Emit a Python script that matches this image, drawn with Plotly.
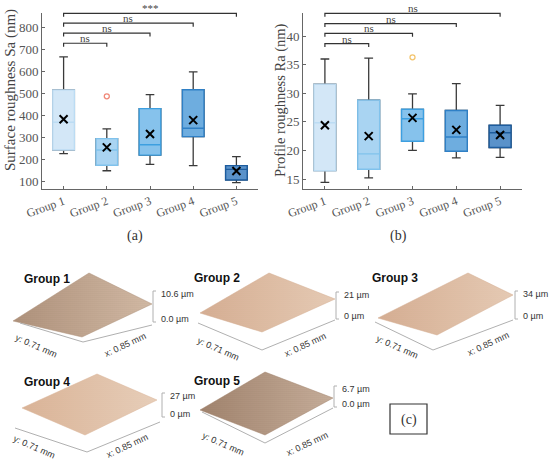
import plotly.graph_objects as go

W, H = 550, 461

# ---------------- data ----------------
groups = ["Group 1", "Group 2", "Group 3", "Group 4", "Group 5"]
positions = [1, 2, 3, 4, 5]

sa_lowerfence = [228, 150, 179, 173, 96]
sa_q1 = [244, 175, 221, 305, 108]
sa_median = [370, 244, 268, 343, 156]
sa_q3 = [517, 296, 432, 518, 173]
sa_upperfence = [667, 340, 496, 599, 214]
sa_mean = [384, 256, 317, 380, 149]
sa_outlier_pos = [2]
sa_outlier_val = [488]

ra_lowerfence = [14.4, 15.2, 20.0, 18.7, 18.8]
ra_q1 = [16.45, 16.7, 21.6, 19.85, 20.5]
ra_median = [24.85, 19.4, 25.55, 22.35, 23.1]
ra_q3 = [31.6, 28.8, 27.2, 27.0, 24.4]
ra_upperfence = [36.0, 36.15, 29.9, 31.7, 27.9]
ra_mean = [24.4, 22.5, 25.7, 23.6, 22.7]
ra_outlier_pos = [3]
ra_outlier_val = [36.3]

comparisons = [(1, 2), (1, 3), (1, 4), (1, 5)]
sa_sig = ["ns", "ns", "ns", "***"]
sa_bracket = [729, 775, 820, 865]
ra_sig = ["ns", "ns", "ns", "ns"]
ra_bracket = [38.7, 40.5, 42.2, 44.0]

sa_ticks = [100, 200, 300, 400, 500, 600, 700, 800]
ra_ticks = [15, 20, 25, 30, 35, 40]

surf_titles = ["Group 1", "Group 2", "Group 3", "Group 4", "Group 5"]
surf_zmax = ["10.6 µm", "21 µm", "34 µm", "27 µm", "6.7 µm"]
surf_zmin = ["0.0 µm", "0 µm", "0 µm", "0 µm", "0.0 µm"]
surf_ylab = "y: 0.71 mm"
surf_xlab = "x: 0.85 mm"

# ---------------- styling ----------------
box_fill = ["#d3e7f7", "#a9d4f2", "#86c2ec", "#6eaddf", "#5a92ca"]
box_edge = ["#bcdcf3", "#80c2ec", "#3d9fe0", "#2f80c6", "#1d5c9e"]
whisker = "#3a3a3a"
serif = "Liberation Serif"
sans = "Liberation Sans"

# subplot pixel geometry
A_X = (42, 258)
B_X = (303, 522)
P_Y = (13.3, 189)
sa_range = [67, 865]
ra_range = [13.25, 44.0]
x_range = [0.5, 5.5]


def px(x):
    return x / W


def py(y):
    return 1 - y / H


def data_to_px(v, rng, pix0, pix1):
    return pix0 + (v - rng[0]) / (rng[1] - rng[0]) * (pix1 - pix0)


def note(x, y, text, size, family, color="#333333", angle=0, xa="center", ya="middle", yshift=0):
    return dict(x=px(x), y=py(y), xref="paper", yref="paper", text=text, showarrow=False,
                textangle=angle, xanchor=xa, yanchor=ya, yshift=yshift,
                font=dict(family=family, size=size, color=color))


fig = go.Figure()


def add_boxes(xa, ya, lf, q1, med, q3, uf, mean, opos, oval, ocolor):
    for i in range(5):
        fig.add_trace(go.Box(
            x=[positions[i]], q1=[q1[i]], median=[med[i]], q3=[q3[i]],
            lowerfence=[lf[i]], upperfence=[uf[i]],
            width=0.5, whiskerwidth=0.4, fillcolor=box_fill[i],
            line=dict(color=whisker, width=1.3), boxpoints=False,
            xaxis=xa, yaxis=ya, hoverinfo="skip"))
        fig.add_trace(go.Box(
            x=[positions[i]], q1=[q1[i]], median=[med[i]], q3=[q3[i]],
            lowerfence=[q1[i]], upperfence=[q3[i]],
            width=0.5, whiskerwidth=0, fillcolor=box_fill[i],
            line=dict(color=box_edge[i], width=1.4), boxpoints=False,
            xaxis=xa, yaxis=ya, hoverinfo="skip"))
    fig.add_trace(go.Scatter(
        x=positions, y=mean, mode="markers", xaxis=xa, yaxis=ya, hoverinfo="skip",
        marker=dict(symbol="x-thin", size=8, line=dict(color="black", width=2))))
    fig.add_trace(go.Scatter(
        x=opos, y=oval, mode="markers", xaxis=xa, yaxis=ya, hoverinfo="skip",
        marker=dict(symbol="circle-open", size=5, color=ocolor, line=dict(width=1.3))))


add_boxes("x", "y", sa_lowerfence, sa_q1, sa_median, sa_q3, sa_upperfence,
          sa_mean, sa_outlier_pos, sa_outlier_val, "#f08878")
add_boxes("x2", "y2", ra_lowerfence, ra_q1, ra_median, ra_q3, ra_upperfence,
          ra_mean, ra_outlier_pos, ra_outlier_val, "#f3c46c")

shapes = []
annotations = []


def add_brackets(xpix, rng, heights, sigs):
    for (a, b), h, s in zip(comparisons, heights, sigs):
        xa = data_to_px(a, x_range, xpix[0], xpix[1])
        xb = data_to_px(b, x_range, xpix[0], xpix[1])
        yh = data_to_px(h, rng, P_Y[1], P_Y[0])
        path = (f"M {px(xa)},{py(yh + 3.5)} L {px(xa)},{py(yh)} "
                f"L {px(xb)},{py(yh)} L {px(xb)},{py(yh + 3.5)}")
        shapes.append(dict(type="path", path=path, xref="paper", yref="paper",
                           line=dict(color="#333333", width=1.2)))
        annotations.append(note((xa + xb) / 2, yh, s, 11, serif, "#444444",
                                ya="bottom", yshift=-3))


add_brackets(A_X, sa_range, sa_bracket, sa_sig)
add_brackets(B_X, ra_range, ra_bracket, ra_sig)

# axis titles and panel letters
annotations.append(note(11, 90, "Surface roughness Sa (nm)", 15, serif, "#444444", angle=-90))
annotations.append(note(280, 100, "Profile roughness Ra (nm)", 14.5, serif, "#444444", angle=-90))
annotations.append(note(135, 236, "(a)", 14, serif))
annotations.append(note(398, 236, "(b)", 14, serif))

# ---------------- (c) surface topography panels ----------------
panels = [
    dict(title=(22, 279), surf=[(89, 273), (152, 304), (82, 337), (13, 321)],
         base=[(20, 323), (83, 342), (152, 325)], zx=153, zt=291, zb=322,
         ylab=(36, 346), xlab=(125, 345), dark="#b39680", light="#d8c0ab",
         speck="#5a4030", speck_op=0.3),
    dict(title=(192, 278), surf=[(269, 273), (335, 299), (262, 332), (200, 313)],
         base=[(198, 323), (262, 350), (335, 320)], zx=336, zt=292, zb=319,
         ylab=(218, 349), xlab=(305, 345), dark="#d5ae93", light="#e6cbb5",
         speck="#8a6a55", speck_op=0.08),
    dict(title=(370, 278), surf=[(468, 273), (513, 295), (437, 335), (378, 318)],
         base=[(375, 322), (433, 350), (513, 320)], zx=515, zt=291, zb=319,
         ylab=(397, 347), xlab=(488, 344), dark="#d5ae93", light="#e6cbb5",
         speck="#8a6a55", speck_op=0.08),
    dict(title=(22, 382), surf=[(97, 374), (157, 400), (85, 435), (22, 408)],
         base=[(15, 428), (87, 452), (160, 422)], zx=162, zt=393, zb=417,
         ylab=(34, 447), xlab=(127, 446), dark="#dab498", light="#e8cfba",
         speck="#8a6a55", speck_op=0.08),
    dict(title=(192, 381), surf=[(265, 372), (333, 398), (265, 435), (200, 410)],
         base=[(202, 412), (265, 443), (333, 408)], zx=334, zt=386, zb=407,
         ylab=(223, 444), xlab=(307, 444), dark="#a68872", light="#cdb4a0",
         speck="#4f3828", speck_op=0.32),
]

for i, p in enumerate(panels):
    pts = p["surf"] + [p["surf"][0]]
    xs = [q[0] for q in pts]
    ys = [q[1] for q in pts]
    fig.add_trace(go.Scatter(
        x=xs, y=ys, mode="lines", fill="toself",
        line=dict(color=p["dark"], width=0.5), hoverinfo="skip",
        fillgradient=dict(type="horizontal", colorscale=[[0, p["dark"]], [1, p["light"]]]),
        xaxis="x3", yaxis="y3"))
    fig.add_trace(go.Scatter(
        x=xs, y=ys, mode="none", fill="toself", fillcolor="rgba(0,0,0,0)", hoverinfo="skip",
        fillpattern=dict(shape=".", fgcolor=p["speck"], fgopacity=p["speck_op"],
                         size=2, solidity=0.3, fillmode="overlay"),
        xaxis="x3", yaxis="y3"))
    bpath = "M " + " L ".join(f"{px(x)},{py(y)}" for x, y in p["base"])
    shapes.append(dict(type="path", path=bpath, xref="paper", yref="paper",
                       line=dict(color="#b0b0b0", width=1)))
    zx = p["zx"]
    zpath = (f"M {px(zx + 3)},{py(p['zt'])} L {px(zx)},{py(p['zt'])} L {px(zx)},{py(p['zb'])} "
             f"L {px(zx + 3)},{py(p['zb'])}")
    shapes.append(dict(type="path", path=zpath, xref="paper", yref="paper",
                       line=dict(color="#b0b0b0", width=1)))
    annotations.append(note(p["title"][0], p["title"][1], f"<b>{surf_titles[i]}</b>", 12, sans,
                            "#111111", xa="left"))
    annotations.append(note(zx + 6, p["zt"] + 3, surf_zmax[i], 9, sans, xa="left"))
    annotations.append(note(zx + 6, p["zb"] - 3, surf_zmin[i], 9, sans, xa="left"))
    annotations.append(note(p["ylab"][0], p["ylab"][1], surf_ylab, 9, sans, angle=24))
    annotations.append(note(p["xlab"][0], p["xlab"][1], surf_xlab, 9, sans, angle=-25))

# (c) label box
shapes.append(dict(type="rect", x0=px(390), x1=px(427), y0=py(404), y1=py(434),
                   xref="paper", yref="paper", line=dict(color="#333333", width=1.2)))
annotations.append(note(408.5, 420, "(c)", 14, serif))

axis_common = dict(showline=True, linecolor="#666666", linewidth=1, ticks="inside",
                   ticklen=3, tickcolor="#666666", showgrid=False, zeroline=False,
                   automargin=False)

fig.update_layout(
    width=W, height=H, autosize=False,
    margin=dict(l=0, r=0, t=0, b=0, pad=0, autoexpand=False),
    paper_bgcolor="white", plot_bgcolor="rgba(0,0,0,0)", showlegend=False,
    xaxis=dict(domain=[px(A_X[0]), px(A_X[1])], range=x_range, tickvals=positions,
               ticktext=groups, tickangle=-20, anchor="y",
               tickfont=dict(family=serif, size=12, color="#555555"), **axis_common),
    yaxis=dict(domain=[py(P_Y[1]), py(P_Y[0])], range=sa_range, tickvals=sa_ticks, anchor="x",
               tickfont=dict(family=serif, size=13, color="#555555"), **axis_common),
    xaxis2=dict(domain=[px(B_X[0]), px(B_X[1])], range=x_range, tickvals=positions,
                ticktext=groups, tickangle=-20, anchor="y2",
                tickfont=dict(family=serif, size=12, color="#555555"), **axis_common),
    yaxis2=dict(domain=[py(P_Y[1]), py(P_Y[0])], range=ra_range, tickvals=ra_ticks, anchor="x2",
                tickfont=dict(family=serif, size=13, color="#555555"), **axis_common),
    xaxis3=dict(domain=[0, 1], range=[0, W], visible=False, anchor="y3", automargin=False),
    yaxis3=dict(domain=[0, 1], range=[H, 0], visible=False, anchor="x3", automargin=False),
    shapes=shapes, annotations=annotations,
)

fig.write_html("out.html", config={"displayModeBar": False},
               post_script="document.body.style.margin='0';document.body.style.padding='0';")
